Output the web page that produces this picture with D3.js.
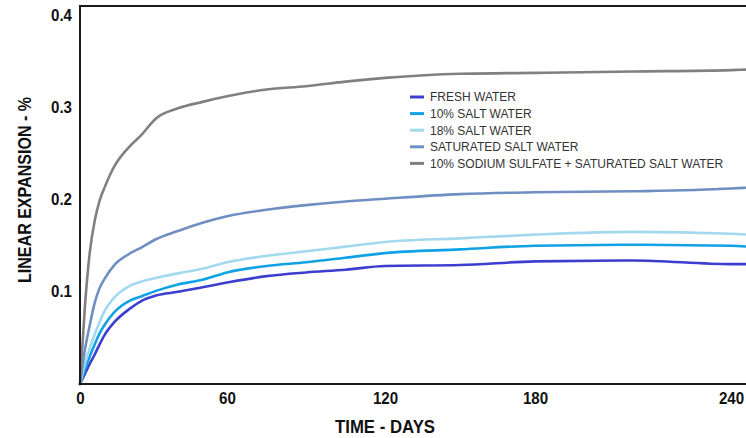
<!DOCTYPE html>
<html>
<head>
<meta charset="utf-8">
<script src="https://cdn.jsdelivr.net/npm/d3@7"></script>
<style>
  html, body { margin: 0; padding: 0; background: #ffffff; }
  svg { display: block; }
</style>
</head>
<body>
<svg id="chart" width="746" height="438"></svg>
<script>
// ---- data ----
const days = [0, 2, 4, 6, 8, 10, 14, 20, 25, 31, 40, 50, 60, 75, 90, 105, 120, 150, 180, 210, 240, 245];
const freshWater = [0, 0.011, 0.022, 0.032, 0.043, 0.053, 0.067, 0.081, 0.090, 0.096, 0.100, 0.105, 0.110, 0.117, 0.121, 0.124, 0.128, 0.129, 0.133, 0.134, 0.130, 0.130];
const salt10 = [0, 0.015, 0.030, 0.043, 0.055, 0.064, 0.078, 0.090, 0.095, 0.101, 0.108, 0.113, 0.121, 0.128, 0.132, 0.137, 0.142, 0.146, 0.150, 0.151, 0.150, 0.149];
const salt18 = [0, 0.022, 0.039, 0.054, 0.067, 0.079, 0.094, 0.106, 0.111, 0.115, 0.120, 0.125, 0.132, 0.139, 0.144, 0.149, 0.154, 0.158, 0.162, 0.165, 0.163, 0.162];
const saturatedSalt = [0, 0.037, 0.064, 0.088, 0.104, 0.114, 0.129, 0.141, 0.148, 0.157, 0.166, 0.175, 0.182, 0.189, 0.194, 0.198, 0.201, 0.206, 0.208, 0.209, 0.212, 0.213];
const sulfateSaturated = [0, 0.084, 0.143, 0.177, 0.199, 0.213, 0.236, 0.257, 0.270, 0.288, 0.299, 0.306, 0.312, 0.3195, 0.323, 0.328, 0.332, 0.3365, 0.3375, 0.339, 0.3405, 0.341];

const seriesNames = ["FRESH WATER", "10% SALT WATER", "18% SALT WATER", "SATURATED SALT WATER", "10% SODIUM SULFATE + SATURATED SALT WATER"];
const seriesValues = [freshWater, salt10, salt18, saturatedSalt, sulfateSaturated];
const seriesColors = ["#3c3ecf", "#10a2e4", "#a3d9ee", "#6f8fc3", "#808080"];

const xTicks = [0, 60, 120, 180, 240];
const yTicks = [0.1, 0.2, 0.3, 0.4];
const xTitle = "TIME - DAYS";
const yTitle = "LINEAR EXPANSION - %";

// ---- layout ----
const W = 746, H = 438;
const plotLeft = 80, plotTop = 6, plotBottom = 384;
// tick positions in the reference are not evenly spaced; piecewise scale
const xStops = [80, 227, 385, 535, 731];

const svg = d3.select("#chart");
svg.append("rect").attr("width", W).attr("height", H).attr("fill", "#fff");

const x = d3.scaleLinear().domain(xTicks).range(xStops);
const y = d3.scaleLinear().domain([0, 0.41]).range([plotBottom, plotTop]);

const axisFont = "'Liberation Sans', Arial, sans-serif";

// lines
const line = d3.line()
  .x((d, i) => x(days[i]))
  .y(d => y(d))
  .curve(d3.curveMonotoneX);

const lines = svg.append("g");
seriesValues.forEach((vals, k) => {
  lines.append("path")
    .attr("d", line(vals))
    .attr("fill", "none")
    .attr("stroke", seriesColors[k])
    .attr("stroke-width", 2.6)
    .attr("stroke-linejoin", "round")
    .attr("stroke-linecap", "round");
});

// frame
svg.append("rect")
  .attr("x", plotLeft).attr("y", plotTop)
  .attr("width", W + 20 - plotLeft).attr("height", plotBottom - plotTop)
  .attr("fill", "none").attr("stroke", "#1a1a1a").attr("stroke-width", 2);

// axes
const xAxis = svg.append("g")
  .attr("transform", `translate(0,${plotBottom})`)
  .call(d3.axisBottom(x).tickValues(xTicks).tickSize(0).tickPadding(9).tickFormat(d3.format("d")));
xAxis.select(".domain").remove();
xAxis.selectAll("text")
  .attr("font-family", axisFont).attr("font-weight", "bold")
  .attr("font-size", 16).attr("fill", "#111")
  .attr("textLength", d => String(d).length * 8.4)
  .attr("lengthAdjust", "spacingAndGlyphs");

const yAxis = svg.append("g")
  .attr("transform", `translate(${plotLeft},0)`)
  .call(d3.axisLeft(y).tickValues(yTicks).tickSize(0).tickPadding(8).tickFormat(d3.format(".1f")));
yAxis.select(".domain").remove();
yAxis.selectAll("text")
  .attr("font-family", axisFont).attr("font-weight", "bold")
  .attr("font-size", 16).attr("fill", "#111")
  .attr("textLength", 21)
  .attr("lengthAdjust", "spacingAndGlyphs");

// titles
svg.append("text")
  .attr("x", 385).attr("y", 433)
  .attr("text-anchor", "middle")
  .attr("font-family", axisFont).attr("font-weight", "bold")
  .attr("font-size", 17.5).attr("fill", "#111")
  .attr("textLength", 100).attr("lengthAdjust", "spacingAndGlyphs")
  .text(xTitle);

svg.append("text")
  .attr("transform", "translate(31,190) rotate(-90)")
  .attr("text-anchor", "middle")
  .attr("font-family", axisFont).attr("font-weight", "bold")
  .attr("font-size", 17.5).attr("fill", "#111")
  .attr("textLength", 186).attr("lengthAdjust", "spacingAndGlyphs")
  .text(yTitle);

// legend
const legend = svg.append("g").attr("transform", "translate(410,97)");
seriesNames.forEach((name, k) => {
  const g = legend.append("g").attr("transform", `translate(0,${k * 16.6})`);
  g.append("line")
    .attr("x1", 0).attr("x2", 14).attr("y1", 0).attr("y2", 0)
    .attr("stroke", seriesColors[k]).attr("stroke-width", 3);
  g.append("text")
    .attr("x", 20).attr("y", 0).attr("dy", "0.36em")
    .attr("font-family", "'Liberation Sans', Arial, sans-serif")
    .attr("font-size", 12).attr("fill", "#333")
    .text(name);
});
</script>
</body>
</html>
